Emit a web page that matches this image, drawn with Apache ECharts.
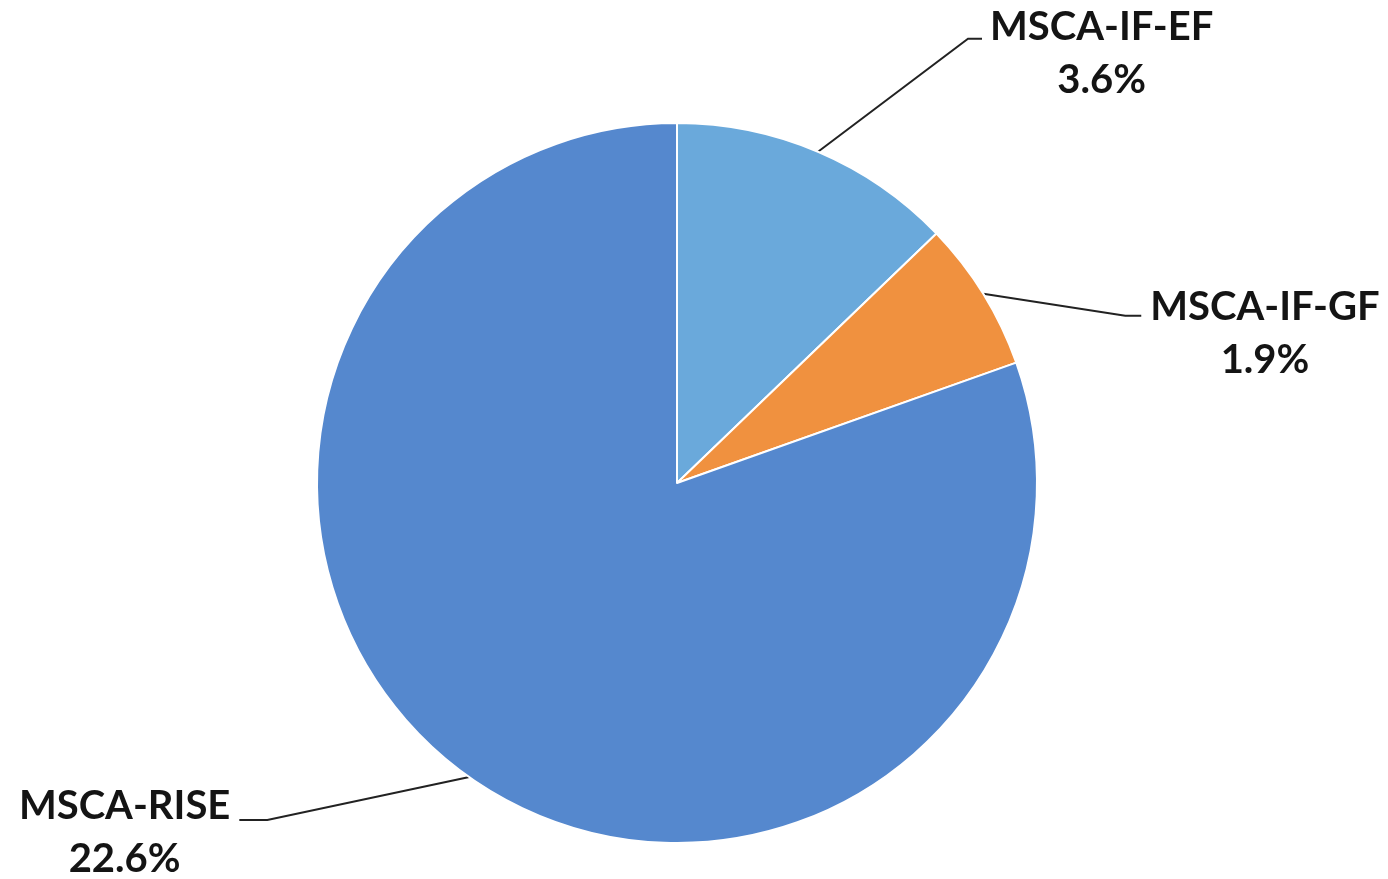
<!DOCTYPE html>
<html>
<head>
<meta charset="utf-8">
<script src="https://cdn.jsdelivr.net/npm/echarts@6/dist/echarts.min.js"></script>
<style>
  html, body { margin: 0; padding: 0; background: #fff; }
  #chart { width: 1388px; height: 879px; }
</style>
</head>
<body>
<div id="chart"></div>
<script>
// data (share in %)
var names = ['MSCA-IF-EF', 'MSCA-IF-GF', 'MSCA-RISE'];
var values = [3.6, 1.9, 22.6];
var colors = ['#6aa9db', '#f0913f', '#5588ce'];

// leader line shape per slice: diagonal step from the slice edge, then horizontal step
var leaders = [
    { dx: 150, dy: -113, h: 14, gap: 8, off: 15 },
    { dx: 142, dy: 22, h: 16, gap: 9, off: 18 },
    { dx: -202, dy: 43, h: -28, gap: 9, off: 13 }
];

var myChart = echarts.init(document.getElementById('chart'));

var seriesData = names.map(function (n, i) {
    return { name: n, value: values[i], itemStyle: { color: colors[i] } };
});

var option = {
    animation: false,
    series: [
        {
            type: 'pie',
            center: [677, 483],
            radius: 360,
            startAngle: 90,
            clockwise: true,
            data: seriesData,
            itemStyle: { borderColor: '#fff', borderWidth: 2 },
            label: {
                show: true,
                position: 'outside',
                formatter: '{b}\n{c}%',
                fontFamily: 'Lato',
                fontWeight: 'bold',
                fontSize: 40,
                lineHeight: 53,
                color: '#141414'
            },
            labelLine: {
                show: true,
                length: 40,
                length2: 20,
                lineStyle: { color: '#222', width: 2 }
            },
            labelLayout: function (params) {
                var L = leaders[params.dataIndex];
                var p0 = params.labelLinePoints[0];
                var p1 = [p0[0] + L.dx, p0[1] + L.dy];
                var p2 = [p1[0] + L.h, p1[1]];
                var w = params.labelRect.width;
                var sign = L.h >= 0 ? 1 : -1;
                return {
                    x: p2[0] + sign * (L.gap + w / 2),
                    y: p2[1] + L.off,
                    align: 'center',
                    verticalAlign: 'middle',
                    labelLinePoints: [p0, p1, p2]
                };
            }
        }
    ]
};

myChart.setOption(option);
</script>
</body>
</html>
